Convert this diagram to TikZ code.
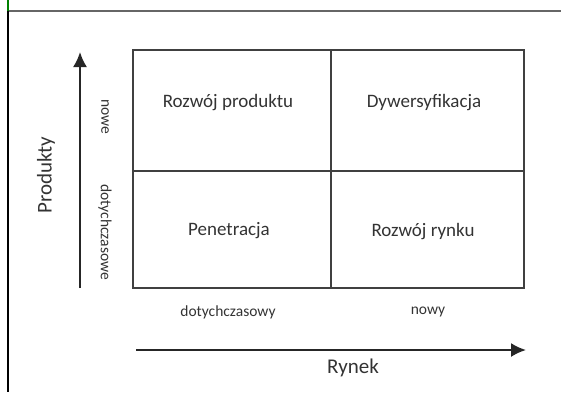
\documentclass[tikz,border=0pt]{standalone}
\usepackage{fontspec}
\setmainfont{Carlito}
\usetikzlibrary{arrows.meta}
\tikzset{>=latex}
\tikzset{
  cell/.style={font=\fontsize{19}{22}\selectfont, text=black!80},
  tag/.style={font=\fontsize{15.5}{18}\selectfont, text=black!80},
  axis/.style={font=\fontsize{21}{24}\selectfont, text=black!80},
  grid/.style={draw=black!75, line width=2.2pt},
  axisarrow/.style={->, draw=black!85, line width=2pt, >={Latex[length=15pt,width=14pt]}}
}

\begin{document}
\begin{tikzpicture}[x=1pt,y=-1pt]
\useasboundingbox (0,0) rectangle (561,392);
% frame
\draw[black!60, line width=1.5pt] (8,11) -- (561,11);
\draw[black, line width=1.6pt] (8,11) -- (8,392);
\draw[green!50!black, line width=2.5pt] (8,0) -- (8,11);
% matrix
\draw[grid] (133,50) rectangle (524,288);
\draw[grid] (331,50) -- (331,288);
\draw[grid] (133,171) -- (524,171);
% cells
\node[cell] (rozwojprod) at (228,103) {Rozwój produktu};
\node[cell] (dyw) at (424,103) {Dywersyfikacja};
\node[cell] (pen) at (229,231) {Penetracja};
\node[cell] (rozwojryn) at (423,232) {Rozwój rynku};
% side labels
\node[tag, rotate=-90] (nowe) at (105,117) {nowe};
\node[tag, rotate=-90] (dotychp) at (105,232) {dotychczasowe};
\node[tag] (dotychr) at (228,312) {dotychczasowy};
\node[tag] (nowy) at (428,312) {nowy};
% axes
\coordinate (pstart) at (80,288);
\coordinate (pend) at (80,52);
\coordinate (rstart) at (136,350);
\coordinate (rend) at (526,350);
\draw[axisarrow] (pstart) -- (pend);
\draw[axisarrow] (rstart) -- (rend);
\node[axis, rotate=90] (produkty) at (46,175) {Produkty};
\node[axis] (rynek) at (353,368) {Rynek};
\end{tikzpicture}
\end{document}
